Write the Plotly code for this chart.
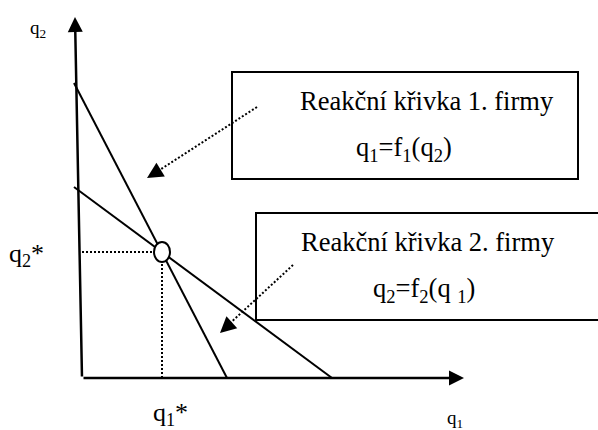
import plotly.graph_objects as go

# reaction curves (q1, q2), schematic units
curve1_q1 = [-0.8, 14.5]
curve1_q2 = [29.5, 0.0]
curve2_q1 = [-0.8, 25.0]
curve2_q2 = [19.1, 0.0]

# Cournot equilibrium
eq_q1 = 8.0
eq_q2 = 12.6

box1_lines = ["Reakční křivka 1. firmy", "q<sub>1</sub>=f<sub>1</sub>(q<sub>2</sub>)"]
box2_lines = ["Reakční křivka 2. firmy", "q<sub>2</sub>=f<sub>2</sub>(q <sub>1</sub>)"]

FONT = "Liberation Serif"
BLACK = "black"

fig = go.Figure()

fig.add_trace(go.Scatter(x=curve1_q1, y=curve1_q2, mode="lines",
                         line=dict(color=BLACK, width=2), hoverinfo="skip"))
fig.add_trace(go.Scatter(x=curve2_q1, y=curve2_q2, mode="lines",
                         line=dict(color=BLACK, width=2), hoverinfo="skip"))

# dotted guides to the equilibrium
fig.add_trace(go.Scatter(x=[0, eq_q1], y=[eq_q2, eq_q2], mode="lines",
                         line=dict(color=BLACK, width=2, dash="2px,2px"), hoverinfo="skip"))
fig.add_trace(go.Scatter(x=[eq_q1, eq_q1], y=[0, eq_q2], mode="lines",
                         line=dict(color=BLACK, width=2, dash="2px,2px"), hoverinfo="skip"))

shapes = []
# equilibrium ring
shapes.append(dict(type="circle", xref="x", yref="y",
                   x0=eq_q1 - 0.8, x1=eq_q1 + 0.8, y0=eq_q2 - 1.0, y1=eq_q2 + 1.0,
                   line=dict(color=BLACK, width=2), fillcolor="white", layer="above"))
# text boxes
shapes.append(dict(type="rect", xref="x", yref="y", x0=15.0, x1=49.6, y0=19.9, y1=30.6,
                   line=dict(color=BLACK, width=2)))
shapes.append(dict(type="rect", xref="x", yref="y", x0=17.4, x1=53.0, y0=5.8, y1=16.5,
                   line=dict(color=BLACK, width=2)))
# dotted pointers
shapes.append(dict(type="line", xref="x", yref="y", x0=17.5, y0=27.1, x1=7.3, y1=20.5,
                   line=dict(color=BLACK, width=2, dash="2px,2px")))
shapes.append(dict(type="line", xref="x", yref="y", x0=21.1, y0=11.3, x1=14.5, y1=5.2,
                   line=dict(color=BLACK, width=2, dash="2px,2px")))

annotations = []


def arrow(x, y, ax, ay, width=2.5, size=1.2):
    annotations.append(dict(x=x, y=y, ax=ax, ay=ay, xref="x", yref="y",
                            axref="x", ayref="y", text="", showarrow=True,
                            arrowhead=2, arrowwidth=width, arrowsize=size,
                            arrowcolor=BLACK))


# axes
arrow(-0.7, 36.1, 0.0, 0.0)
arrow(38.2, 0.0, 0.0, 0.0)
# pointer heads
arrow(6.5, 20.0, 7.8, 20.8, width=2, size=1.6)
arrow(13.8, 4.5, 14.9, 5.5, width=2, size=1.6)


def label(x, y, text, size):
    annotations.append(dict(x=x, y=y, xref="x", yref="y", text=text, showarrow=False,
                            xanchor="center", yanchor="middle",
                            font=dict(family=FONT, size=size, color=BLACK)))


label(34.45, 27.7, box1_lines[0], 26.5)
label(32.2, 22.9, box1_lines[1], 26.5)
label(34.6, 13.6, box2_lines[0], 26.5)
label(34.2, 8.8, box2_lines[1], 26.5)

label(-4.4, 34.9, "q<sub>2</sub>", 19)
label(-5.6, 12.3, "q<sub>2</sub>*", 26)
label(8.8, -3.6, "q<sub>1</sub>*", 26)
label(37.3, -4.1, "q<sub>1</sub>", 19)

fig.update_layout(
    width=598, height=430,
    margin=dict(l=0, r=0, t=0, b=0),
    paper_bgcolor="white", plot_bgcolor="white",
    showlegend=False,
    xaxis=dict(range=[-8.2, 51.6], visible=False, fixedrange=True),
    yaxis=dict(range=[-5.2, 37.8], visible=False, fixedrange=True),
    shapes=shapes,
    annotations=annotations,
)

# drop the default page margin so the figure fills the window exactly
fig.write_html("out.html", config={"displayModeBar": False},
               post_script="document.body.style.margin='0';document.body.style.overflow='hidden';")
